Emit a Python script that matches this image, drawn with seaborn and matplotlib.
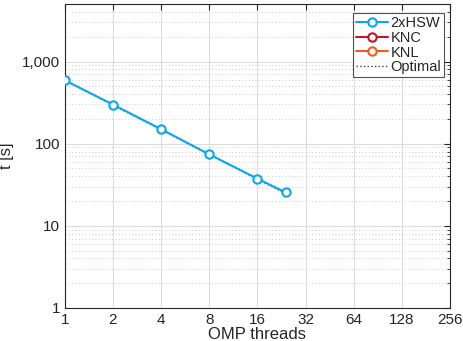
import numpy as np
import pandas as pd
import matplotlib
matplotlib.use("Agg")
import matplotlib.pyplot as plt
import matplotlib.ticker as mticker
import seaborn as sns

threads = [1, 2, 4, 8, 16, 24]
t_hsw = [590, 299, 150, 74, 37.5, 25.5]
t_opt = [590, 295, 147.5, 73.75, 36.9, 24.6]
x_ticks = [1, 2, 4, 8, 16, 32, 64, 128, 256]
y_ticks = [1, 10, 100, 1000]

c_hsw = "#0aa6ee"
c_knc = "#c0142b"
c_knl = "#e8601c"

sns.set_style("white")
plt.rcParams['font.family'] = ['Liberation Sans', 'DejaVu Sans']

df = pd.DataFrame({"threads": threads, "hsw": t_hsw, "opt": t_opt})

fig = plt.figure(figsize=(4.63, 3.41), dpi=100)
ax = fig.add_axes([0.140, 0.097, 0.832, 0.891])

sns.lineplot(data=df, x="threads", y="hsw", ax=ax, color=c_hsw, lw=1.5,
             marker="o", markersize=6, markerfacecolor="white",
             markeredgecolor=c_hsw, markeredgewidth=1.5, label="2xHSW", zorder=4)
ax.plot([], [], color=c_knc, lw=1.5, marker="o", markersize=6,
        markerfacecolor="white", markeredgecolor=c_knc, markeredgewidth=1.5, label="KNC")
ax.plot([], [], color=c_knl, lw=1.5, marker="o", markersize=6,
        markerfacecolor="white", markeredgecolor=c_knl, markeredgewidth=1.5, label="KNL")
sns.lineplot(data=df, x="threads", y="opt", ax=ax, color="#444444", lw=1,
             linestyle=":", label="Optimal", zorder=3)

ax.set_xscale("log", base=2)
ax.set_yscale("log")
ax.set_xlim(1, 256)
ax.set_ylim(1, 5000)
ax.set_xticks(x_ticks)
ax.xaxis.set_major_formatter(mticker.FuncFormatter(lambda v, p: f"{int(v)}"))
ax.xaxis.set_minor_locator(mticker.NullLocator())
ax.set_yticks(y_ticks)
ax.yaxis.set_major_formatter(mticker.FuncFormatter(lambda v, p: f"{int(v):,}"))
ax.yaxis.set_minor_locator(mticker.LogLocator(base=10, subs=np.arange(2, 10)))
ax.yaxis.set_minor_formatter(mticker.NullFormatter())

ax.grid(True, which="major", color="#dddddd", lw=0.8)
ax.grid(True, which="minor", axis="y", color="#bbbbbb", lw=0.6, linestyle=(0, (1, 3)))
ax.set_axisbelow(True)

ax.tick_params(which="both", direction="in", top=True, right=True,
               labelsize=11, colors="#262626", length=4)
ax.tick_params(which="minor", length=2)
for s in ax.spines.values():
    s.set_color("#262626")
    s.set_linewidth(0.8)

ax.set_xlabel("OMP threads", fontsize=12, color="#262626", labelpad=0)
ax.set_ylabel("t [s]", fontsize=12, color="#262626", labelpad=6)

leg = ax.legend(loc="upper right", bbox_to_anchor=(0.985, 0.97), fontsize=10.5,
                frameon=True, fancybox=False, handlelength=2.2, handletextpad=0.2,
                borderpad=0.2, labelspacing=0.05, borderaxespad=0)
leg.get_frame().set_edgecolor("#262626")
leg.get_frame().set_linewidth(0.8)

fig.savefig("out.png", dpi=100)
